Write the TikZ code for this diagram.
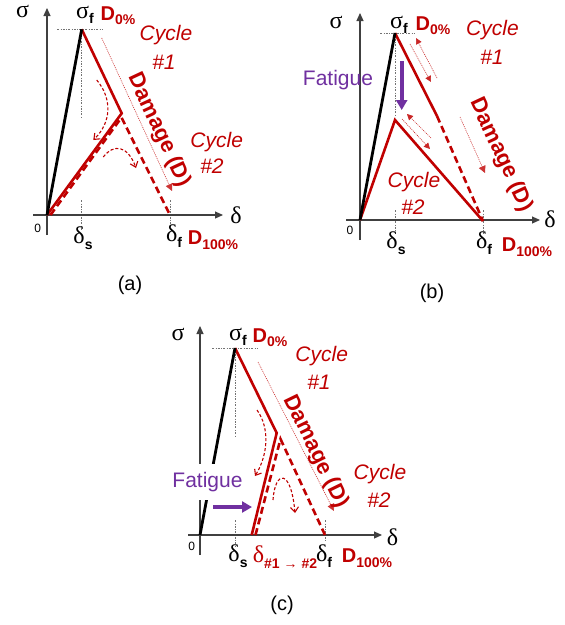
\documentclass[tikz,border=0pt]{standalone}
\usepackage{fontspec}
\setmainfont{Liberation Sans}
\newfontfamily\gkfont{Liberation Serif}
\usetikzlibrary{arrows.meta}
\definecolor{dred}{RGB}{192,0,0}
\definecolor{fpurple}{RGB}{112,48,160}
\newcommand\gsig{{\gkfont σ}}
\newcommand\gdel{{\gkfont δ}}
\newcommand\subb[1]{\raisebox{-0.45ex}{\fontsize{14}{14}\selectfont\bfseries #1}}
\tikzset{
  axis/.style={draw=black!75, line width=1.1pt, -{Triangle[length=8pt,width=7pt]}},
  blk/.style={line width=2.8pt, black},
  rline/.style={line width=2.6pt, dred},
  rdash/.style={line width=2.6pt, dred, dash pattern=on 7pt off 4pt},
  guide/.style={black!55, line width=0.7pt, dash pattern=on 2pt off 1.5pt on 0.6pt off 1.5pt},
  dmgarrow/.style={dred!80, line width=0.6pt, dash pattern=on 1pt off 1pt, -{Triangle[length=7pt,width=7pt]}},
  thinarr/.style={dred!85, line width=0.6pt, dash pattern=on 1pt off 1pt, -{Triangle[length=6pt,width=6pt]}},
  curv/.style={dred, line width=1.1pt, dash pattern=on 3pt off 2pt, -{Straight Barb[length=5pt,width=8pt]}},
  purarr/.style={fpurple, line width=4pt, -{Triangle[length=10pt,width=11pt]}},
  gk/.style={inner sep=0pt, font=\fontsize{24}{26}\selectfont},
  dlab/.style={inner sep=0pt, dred, font=\fontsize{20}{22}\selectfont\bfseries},
  cyc/.style={inner sep=0pt, dred, font=\fontsize{21}{23}\selectfont\itshape},
  dmg/.style={inner sep=0pt, dred, font=\fontsize{22}{24}\selectfont\bfseries},
  fat/.style={inner sep=0pt, fpurple, font=\fontsize{21}{23}\selectfont},
  zero/.style={inner sep=0pt, font=\fontsize{12}{13}\selectfont},
  captxt/.style={inner sep=0pt, font=\fontsize{20}{22}\selectfont},
}
\begin{document}
\begin{tikzpicture}[x=1pt,y=-1pt]
\path[use as bounding box, fill=white] (0,0) rectangle (565,625);

% ================= panel (a) =================
\coordinate (Oa) at (47,215);
\coordinate (Ya0) at (47,235);
\coordinate (Ya) at (47,8);
\coordinate (Xa0) at (33,215);
\coordinate (Xa) at (223,215);
\coordinate (Pa) at (81.7,29.3);
\coordinate (Ka) at (121.7,113.3);
\coordinate (Fa) at (170,215);
\draw[guide] (57,29.3) -- (102,29.3);
\draw[guide] (Pa) -- (81.7,117);
\draw[guide] (81.7,200) -- (81.7,230);
\draw[guide] (170,200) -- (170,226);
\draw[axis] (Ya0) -- (Ya);
\draw[axis] (Xa0) -- (Xa);
\draw[rdash] (50.5,215) -- (121.5,117.5) -- (Fa);
\draw[rline] (Pa) -- (Ka) -- (Oa);
\draw[blk] (Oa) -- (Pa);
\draw[dmgarrow] (101.7,38) -- (172,191);
\draw[curv] (96.7,80) .. controls (112,98) and (112,122) .. (93.3,140);
\draw[curv] (103.3,157) .. controls (114,143) and (128,146) .. (136,168);
\node[gk, anchor=base, text height=11pt] (sa) at (22.5,17) {\gsig};
\node[gk, anchor=base, text height=11pt] (sfa) at (85,18) {\gsig\subb{f}};
\node[dlab, anchor=base] (d0a) at (118,20) {D\subb{0\%}};
\node[cyc] (c1a) at (166,35) {Cycle};
\node[cyc] (n1a) at (164,62) {\#1};
\node[dmg, rotate=-65] (dga) at (159,130) {Damage (D)};
\node[cyc] (c2a) at (216.7,142) {Cycle};
\node[cyc] (n2a) at (212,166) {\#2};
\node[gk] (dla) at (236,215) {\gdel};
\node[zero] (za) at (37.7,228) {0};
\node[gk] (dsa) at (83,238) {\gdel\subb{s}};
\node[gk] (dfa) at (174,236) {\gdel\subb{f}};
\node[dlab] (dha) at (213,240) {D\subb{100\%}};
\node[captxt] (capa) at (130,285) {(a)};

% ================= panel (b) =================
\coordinate (Ob) at (360,220);
\coordinate (Yb0) at (360,240);
\coordinate (Yb) at (360,13);
\coordinate (Xb0) at (346,220);
\coordinate (Xb) at (540,220);
\coordinate (Pb) at (395,33);
\coordinate (Kb) at (395,120);
\coordinate (Fb) at (483,221);
\coordinate (Mb) at (437,116);
\draw[guide] (380,33) -- (415,33);
\draw[guide] (Pb) -- (395,117);
\draw[guide] (395,210) -- (395,234);
\draw[guide] (483,210) -- (483,234);
\draw[axis] (Yb0) -- (Yb);
\draw[axis] (Xb0) -- (Xb);
\draw[rline] (Pb) -- (Mb);
\draw[rdash] (Mb) -- (Fb);
\draw[rline] (Ob) -- (Kb) -- (Fb);
\draw[blk] (Ob) -- (Pb);
\draw[purarr] (401.7,61) -- (401.7,110);
\draw[thinarr] (437,78) -- (416,38);
\draw[thinarr] (410,44) -- (431,82);
\draw[thinarr] (431,138) -- (407,114);
\draw[thinarr] (402,119) -- (430,149);
\draw[dmgarrow] (460,117) -- (485,173);
\node[gk, anchor=base] (sb) at (336,28) {\gsig};
\node[gk, anchor=base] (sfb) at (399,28) {\gsig\subb{f}};
\node[dlab, anchor=base] (d0b) at (433,30) {D\subb{0\%}};
\node[cyc] (c1b) at (492.5,30) {Cycle};
\node[cyc] (n1b) at (492,57) {\#1};
\node[fat] (fb) at (338,80) {Fatigue};
\node[dmg, rotate=-65] (dgb) at (501,155) {Damage (D)};
\node[cyc] (c2b) at (414,182) {Cycle};
\node[cyc] (n2b) at (413,207) {\#2};
\node[gk] (dlb) at (550,219) {\gdel};
\node[zero] (zb) at (350,230) {0};
\node[gk] (dsb) at (396,243) {\gdel\subb{s}};
\node[gk] (dfb) at (484,243) {\gdel\subb{f}};
\node[dlab] (dhb) at (527,247) {D\subb{100\%}};
\node[captxt] (capb) at (432,293) {(b)};

% ================= panel (c) =================
\coordinate (Oc) at (200,535);
\coordinate (Yc0) at (200,555);
\coordinate (Yc) at (200,326);
\coordinate (Xc0) at (188,535);
\coordinate (Xc) at (382,535);
\coordinate (Pc) at (235,348);
\coordinate (Kc) at (276.7,433);
\coordinate (Sc) at (251.7,535);
\coordinate (Fc) at (325,535);
\draw[guide] (212,348) -- (257,348);
\draw[guide] (Pc) -- (235,437);
\draw[guide] (235,520) -- (235,546);
\draw[guide] (325,520) -- (325,541);
\draw[axis] (Yc0) -- (Yc);
\draw[axis] (Xc0) -- (Xc);
\draw[rdash] (255.5,535) -- (280.5,439) -- (Fc);
\draw[rline] (Pc) -- (Kc) -- (Sc);
\draw[blk] (Oc) -- (Pc);
\node[fat, fill=white, inner xsep=2pt, inner ysep=8pt] (fc) at (207.5,482) {Fatigue};
\draw[purarr] (213,507) -- (252,507);
\draw[dmgarrow] (258,362) -- (334,511);
\draw[curv] (257,410) .. controls (270,428) and (268,455) .. (255,476);
\draw[curv] (273,500) .. controls (275,470) and (291,468) .. (295,513);
\node[gk, anchor=base] (sc) at (178,340) {\gsig};
\node[gk, anchor=base] (sfc) at (238,340) {\gsig\subb{f}};
\node[dlab, anchor=base] (d0c) at (270,342) {D\subb{0\%}};
\node[cyc] (c1c) at (321.7,356) {Cycle};
\node[cyc] (n1c) at (319,382) {\#1};
\node[dmg, rotate=-64] (dgc) at (315.7,452) {Damage (D)};
\node[cyc] (c2c) at (380,474) {Cycle};
\node[cyc] (n2c) at (379,500) {\#2};
\node[gk] (dlc) at (392.5,537) {\gdel};
\node[zero] (zc) at (191.7,546.7) {0};
\node[gk] (dsc) at (238,556) {\gdel\subb{s}};
\node[gk, dred] (d12c) at (285,557) {\gdel\subb{\#1 {\normalfont→} \#2}};
\node[gk] (dfc) at (324,556) {\gdel\subb{f}};
\node[dlab] (dhc) at (367,558) {D\subb{100\%}};
\node[captxt] (capc) at (282,605) {(c)};
\end{tikzpicture}
\end{document}
